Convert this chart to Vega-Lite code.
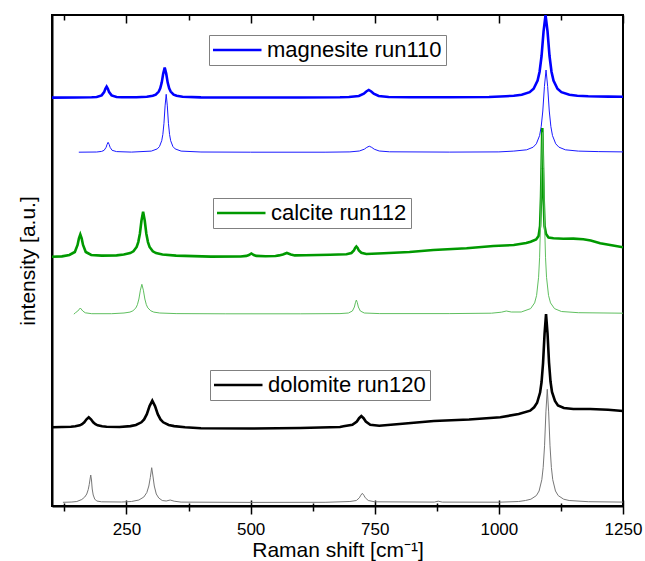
{
  "$schema": "https://vega.github.io/schema/vega-lite/v6.json",
  "autosize": {"type": "none"},
  "padding": {"left": 52, "top": 15, "right": 22, "bottom": 55},
  "width": 571,
  "height": 491,
  "background": "white",
  "config": {
    "font": "Liberation Sans",
    "view": {"stroke": "black", "strokeWidth": 2},
    "axis": {"labelFont": "Liberation Sans", "titleFont": "Liberation Sans", "titleFontWeight": "normal", "labelColor": "black", "titleColor": "black", "domainColor": "black", "tickColor": "black", "grid": false, "minExtent": 0},
    "legend": {"orient": "none", "symbolType": "stroke", "symbolSize": 2401, "symbolStrokeWidth": 2.6, "symbolOffset": -2, "labelFont": "Liberation Sans", "labelFontSize": 22, "labelColor": "black", "labelOffset": 4, "labelLimit": 400, "strokeColor": "#808080", "strokeWidth": 1, "padding": 4, "clipHeight": 22, "fillColor": "white"}
  },
  "datasets": {
    "mt": [{"x":100,"y":408.4},{"x":150,"y":408.5},{"x":180,"y":408.7},{"x":190,"y":409.0},{"x":200,"y":410.6},{"x":205,"y":413.9},{"x":207.5,"y":417.2},{"x":210,"y":419.4},{"x":212.5,"y":417.2},{"x":215,"y":413.9},{"x":220,"y":410.6},{"x":230,"y":409.0},{"x":240,"y":408.7},{"x":270,"y":408.8},{"x":291,"y":409.2},{"x":303,"y":410.2},{"x":309,"y":411.4},{"x":315,"y":414.4},{"x":318,"y":417.6},{"x":321,"y":423.4},{"x":324,"y":432.4},{"x":327,"y":438.4},{"x":330,"y":432.4},{"x":333,"y":423.4},{"x":336,"y":417.6},{"x":339,"y":414.4},{"x":345,"y":411.4},{"x":351,"y":410.2},{"x":363,"y":409.2},{"x":400,"y":408.6},{"x":500,"y":408.5},{"x":600,"y":408.5},{"x":680,"y":408.7},{"x":698,"y":409.0},{"x":718,"y":410.0},{"x":728,"y":412.3},{"x":733,"y":414.5},{"x":738,"y":416.0},{"x":743,"y":414.5},{"x":748,"y":412.3},{"x":758,"y":410.0},{"x":778,"y":409.0},{"x":820,"y":408.8},{"x":900,"y":408.8},{"x":980,"y":409.0},{"x":1014,"y":409.8},{"x":1030,"y":410.3},{"x":1046,"y":411.2},{"x":1062,"y":413.8},{"x":1070,"y":417.2},{"x":1078,"y":425.4},{"x":1082,"y":434.3},{"x":1086,"y":450},{"x":1090,"y":474.6},{"x":1094,"y":491},{"x":1098,"y":474.6},{"x":1102,"y":450},{"x":1106,"y":434.3},{"x":1110,"y":425.4},{"x":1118,"y":417.2},{"x":1126,"y":413.8},{"x":1142,"y":411.2},{"x":1158,"y":410.3},{"x":1180,"y":409.8},{"x":1220,"y":409.4},{"x":1250,"y":409.3}],
    "mn": [{"x":154,"y":353.8},{"x":190,"y":354.0},{"x":200,"y":354.6},{"x":205,"y":355.7},{"x":209,"y":358.7},{"x":211,"y":361.7},{"x":213,"y":363.7},{"x":215,"y":361.7},{"x":217,"y":358.7},{"x":221,"y":355.7},{"x":230,"y":354.4},{"x":260,"y":353.9},{"x":300,"y":354.9},{"x":312,"y":357.1},{"x":316.5,"y":359.5},{"x":321,"y":365.3},{"x":323.25,"y":371.6},{"x":325.5,"y":382.7},{"x":327.75,"y":400.1},{"x":330,"y":411.7},{"x":332.25,"y":400.1},{"x":334.5,"y":382.7},{"x":336.75,"y":371.6},{"x":339,"y":365.3},{"x":343.5,"y":359.5},{"x":348,"y":357.1},{"x":360,"y":354.9},{"x":400,"y":354.0},{"x":500,"y":353.8},{"x":650,"y":353.8},{"x":700,"y":354.1},{"x":719,"y":355.0},{"x":729,"y":356.8},{"x":734,"y":358.6},{"x":739,"y":359.8},{"x":744,"y":358.6},{"x":749,"y":356.8},{"x":759,"y":355.0},{"x":780,"y":354.2},{"x":900,"y":353.9},{"x":1000,"y":354.1},{"x":1030,"y":354.9},{"x":1056,"y":356.2},{"x":1069,"y":358.8},{"x":1075.5,"y":362.2},{"x":1082,"y":370.4},{"x":1085.25,"y":379.3},{"x":1088.5,"y":395},{"x":1091.75,"y":419.6},{"x":1095,"y":436},{"x":1098.25,"y":419.6},{"x":1101.5,"y":395},{"x":1104.75,"y":379.3},{"x":1108,"y":370.4},{"x":1114.5,"y":362.2},{"x":1121,"y":358.8},{"x":1134,"y":356.2},{"x":1160,"y":354.9},{"x":1200,"y":354.4},{"x":1250,"y":354.1}],
    "ct": [{"x":100,"y":249.3},{"x":120,"y":249.6},{"x":135,"y":251},{"x":146,"y":254},{"x":151.5,"y":261},{"x":154.25,"y":267.6},{"x":157,"y":271.6},{"x":159.75,"y":267.6},{"x":162.5,"y":261},{"x":168,"y":254},{"x":179,"y":251},{"x":200,"y":250.4},{"x":230,"y":250.6},{"x":244.5,"y":251.5},{"x":257.5,"y":252.9},{"x":264,"y":254.7},{"x":270.5,"y":259.1},{"x":273.75,"y":263.9},{"x":277,"y":272.3},{"x":280.25,"y":285.5},{"x":283.5,"y":294.3},{"x":286.75,"y":285.5},{"x":290,"y":272.3},{"x":293.25,"y":263.9},{"x":296.5,"y":259.1},{"x":303,"y":254.7},{"x":309.5,"y":252.9},{"x":322.5,"y":251.5},{"x":350,"y":250.4},{"x":420,"y":249.4},{"x":480,"y":249.5},{"x":491.5,"y":250.1},{"x":496.5,"y":251},{"x":501.5,"y":252.5},{"x":506.5,"y":251},{"x":511.5,"y":250.1},{"x":530,"y":249.8},{"x":550,"y":250},{"x":557,"y":250.6},{"x":565,"y":251.5},{"x":573,"y":253},{"x":581,"y":251.5},{"x":589,"y":250.6},{"x":610,"y":250.8},{"x":660,"y":251.2},{"x":693,"y":251.7},{"x":703,"y":253},{"x":708,"y":255.5},{"x":710.5,"y":258},{"x":713,"y":259.5},{"x":715.5,"y":258},{"x":718,"y":255.5},{"x":723,"y":253.2},{"x":733,"y":252},{"x":768,"y":252.7},{"x":820,"y":254},{"x":868,"y":256},{"x":935,"y":257.7},{"x":989,"y":260},{"x":1030,"y":261},{"x":1055,"y":263},{"x":1064,"y":264.3},{"x":1075,"y":266.5},{"x":1080,"y":270},{"x":1083,"y":280},{"x":1085,"y":310},{"x":1086.5,"y":350},{"x":1087.5,"y":378},{"x":1088.5,"y":350},{"x":1090,"y":310},{"x":1092,"y":280},{"x":1095,"y":272},{"x":1100,"y":268.5},{"x":1110,"y":267.7},{"x":1130,"y":267.2},{"x":1150,"y":267.4},{"x":1170,"y":266.8},{"x":1185,"y":265.6},{"x":1204,"y":262.7},{"x":1230,"y":260.5},{"x":1250,"y":258.7}],
    "cn": [{"x":144,"y":191.8},{"x":147,"y":193.2},{"x":152,"y":195},{"x":157,"y":198},{"x":162,"y":195},{"x":167,"y":193.2},{"x":180,"y":192.3},{"x":220,"y":192.3},{"x":245,"y":193},{"x":257,"y":193.9},{"x":263,"y":195.2},{"x":269,"y":198.1},{"x":272,"y":201.3},{"x":275,"y":207},{"x":278,"y":215.8},{"x":281,"y":221.7},{"x":284,"y":215.8},{"x":287,"y":207},{"x":290,"y":201.3},{"x":293,"y":198.1},{"x":299,"y":195.2},{"x":305,"y":193.9},{"x":317,"y":193},{"x":350,"y":192.4},{"x":450,"y":192.2},{"x":600,"y":192.2},{"x":680,"y":192.4},{"x":697,"y":193},{"x":705,"y":195},{"x":709,"y":199},{"x":711,"y":203.2},{"x":713,"y":206},{"x":715,"y":203.2},{"x":717,"y":199},{"x":721,"y":195},{"x":729,"y":193},{"x":760,"y":192.4},{"x":900,"y":192.4},{"x":985,"y":192.8},{"x":1005,"y":193.8},{"x":1015,"y":195},{"x":1025,"y":194},{"x":1045,"y":194},{"x":1064,"y":197.4},{"x":1072,"y":203.1},{"x":1076,"y":210.6},{"x":1080,"y":228.7},{"x":1082,"y":248.2},{"x":1084,"y":283},{"x":1086,"y":337.3},{"x":1088,"y":373.5},{"x":1090,"y":337.3},{"x":1092,"y":283},{"x":1094,"y":248.2},{"x":1096,"y":228.7},{"x":1100,"y":210.6},{"x":1104,"y":203.1},{"x":1112,"y":197.4},{"x":1126,"y":194.5},{"x":1160,"y":193.3},{"x":1250,"y":192.8}],
    "dt": [{"x":100,"y":78.7},{"x":120,"y":79.0},{"x":138,"y":79.3},{"x":147,"y":79.7},{"x":156,"y":80.7},{"x":160.5,"y":81.8},{"x":165,"y":83.7},{"x":169.5,"y":86.7},{"x":174,"y":88.7},{"x":178.5,"y":86.7},{"x":183,"y":83.7},{"x":187.5,"y":81.8},{"x":192,"y":80.7},{"x":201,"y":79.7},{"x":210,"y":79.3},{"x":236,"y":79.0},{"x":258,"y":79.9},{"x":269,"y":81},{"x":280,"y":83.7},{"x":285.5,"y":86.6},{"x":291,"y":91.8},{"x":296.5,"y":99.9},{"x":302,"y":105.3},{"x":307.5,"y":99.9},{"x":313,"y":91.8},{"x":318.5,"y":86.6},{"x":324,"y":83.7},{"x":335,"y":81},{"x":346,"y":79.9},{"x":368,"y":78.8},{"x":400,"y":77.8},{"x":500,"y":77.5},{"x":600,"y":78},{"x":680,"y":79},{"x":687,"y":79.7},{"x":705,"y":81.2},{"x":714,"y":84.5},{"x":718.5,"y":87.8},{"x":723,"y":90},{"x":727.5,"y":87.8},{"x":732,"y":84.5},{"x":741,"y":81.2},{"x":759,"y":80.2},{"x":800,"y":82},{"x":869,"y":85},{"x":940,"y":86.5},{"x":1003,"y":88.7},{"x":1040,"y":92},{"x":1063,"y":95.3},{"x":1071,"y":98.7},{"x":1077,"y":103.2},{"x":1083,"y":113.4},{"x":1086,"y":124},{"x":1089,"y":143},{"x":1092,"y":172},{"x":1095,"y":192},{"x":1098,"y":172.5},{"x":1101,"y":143.5},{"x":1104,"y":124.5},{"x":1107,"y":114},{"x":1113,"y":105},{"x":1119,"y":100.5},{"x":1131,"y":98},{"x":1150,"y":97},{"x":1184,"y":97},{"x":1220,"y":96.2},{"x":1250,"y":95}],
    "dn": [{"x":122,"y":3.7},{"x":140,"y":4.0},{"x":150,"y":4.5},{"x":160,"y":6.5},{"x":166,"y":9},{"x":170,"y":12},{"x":173,"y":16.5},{"x":175,"y":21.5},{"x":177,"y":28},{"x":178,"y":31},{"x":179.5,"y":26},{"x":181,"y":17},{"x":183,"y":11},{"x":186,"y":7},{"x":190,"y":5},{"x":200,"y":4.2},{"x":240,"y":4},{"x":260,"y":4.5},{"x":275,"y":6},{"x":285,"y":9},{"x":291,"y":13.5},{"x":295,"y":20},{"x":298,"y":28.5},{"x":300.8,"y":38.3},{"x":303,"y":31},{"x":306,"y":20},{"x":310,"y":12},{"x":315,"y":8},{"x":322,"y":5.5},{"x":330,"y":5},{"x":338,"y":6},{"x":346,"y":4.8},{"x":360,"y":3.9},{"x":500,"y":3.6},{"x":650,"y":3.7},{"x":700,"y":4.5},{"x":713,"y":5.5},{"x":719,"y":8.2},{"x":722,"y":10.8},{"x":725,"y":12.7},{"x":728,"y":10.8},{"x":731,"y":8.2},{"x":737,"y":5.5},{"x":750,"y":4.2},{"x":870,"y":3.9},{"x":878,"y":4.8},{"x":886,"y":3.9},{"x":1000,"y":3.8},{"x":1040,"y":4.5},{"x":1053.5,"y":5.5},{"x":1064.5,"y":6.8},{"x":1075.5,"y":10.4},{"x":1081,"y":15},{"x":1086.5,"y":26.3},{"x":1089.25,"y":38.5},{"x":1092,"y":60.2},{"x":1094.75,"y":94.1},{"x":1097.5,"y":116.7},{"x":1100.25,"y":94.1},{"x":1103,"y":60.2},{"x":1105.75,"y":38.5},{"x":1108.5,"y":26.3},{"x":1114,"y":15},{"x":1119.5,"y":10.4},{"x":1130.5,"y":6.8},{"x":1141.5,"y":5.5},{"x":1180,"y":4.3},{"x":1250,"y":3.9}]
  },
  "resolve": {"scale": {"color": "independent"}, "legend": {"color": "independent"}, "axis": {"x": "independent", "y": "independent"}},
  "layer": [
    {
      "data": {"name": "mt"},
      "mark": {"type": "line", "strokeWidth": 2.6, "clip": true},
      "encoding": {
        "x": {"field": "x", "type": "quantitative", "scale": {"domain": [100, 1250], "nice": false, "zero": false},
          "axis": {"orient": "bottom", "values": [125, 250, 375, 500, 625, 750, 875, 1000, 1125, 1250], "format": "d", "labelExpr": "datum.value % 250 === 0 ? datum.label : ''", "labelFlush": false, "labelOverlap": false, "labelFontSize": 17, "labelPadding": 7, "tickSize": {"condition": {"test": "datum.value % 250 === 0", "value": 8}, "value": 5}, "tickWidth": 1.5, "domainWidth": 2, "title": "Raman shift [cm⁻¹]", "titleFontSize": 21, "titlePadding": 2}},
        "y": {"field": "y", "type": "quantitative", "scale": {"domain": [0, 491], "nice": false, "zero": false},
          "axis": {"orient": "left", "ticks": false, "labels": false, "domainWidth": 2, "minExtent": 0, "title": "intensity [a.u.]", "titleFontSize": 21, "titlePadding": 14}},
        "color": {"datum": "magnesite run110", "type": "nominal", "scale": {"domain": ["magnesite run110"], "range": ["#0000ff"]}, "legend": {"title": null, "legendX": 157, "legendY": 20}}
      }
    },
    {
      "data": {"name": "mn"},
      "mark": {"type": "line", "strokeWidth": 1, "color": "#1a1aff", "clip": true},
      "encoding": {
        "x": {"field": "x", "type": "quantitative", "scale": {"domain": [100, 1250], "nice": false, "zero": false},
          "axis": {"orient": "bottom", "values": [125, 250, 375, 500, 625, 750, 875, 1000, 1125, 1250], "labels": false, "domain": false, "title": null, "tickSize": {"condition": {"test": "datum.value % 250 === 0", "value": -6}, "value": -3}, "tickWidth": 1.5}},
        "y": {"field": "y", "type": "quantitative", "axis": null}
      }
    },
    {
      "data": {"name": "ct"},
      "mark": {"type": "line", "strokeWidth": 2.6, "clip": true},
      "encoding": {
        "x": {"field": "x", "type": "quantitative", "scale": {"domain": [100, 1250], "nice": false, "zero": false},
          "axis": {"orient": "top", "values": [125, 250, 375, 500, 625, 750, 875, 1000, 1125, 1250], "labels": false, "domain": false, "title": null, "tickSize": {"condition": {"test": "datum.value % 250 === 0", "value": -8}, "value": -5}, "tickWidth": 1.5}},
        "y": {"field": "y", "type": "quantitative", "axis": null},
        "color": {"datum": "calcite run112", "type": "nominal", "scale": {"domain": ["calcite run112"], "range": ["#009900"]}, "legend": {"title": null, "legendX": 161, "legendY": 183}}
      }
    },
    {
      "data": {"name": "cn"},
      "mark": {"type": "line", "strokeWidth": 1, "color": "#5fbf5f", "clip": true},
      "encoding": {
        "x": {"field": "x", "type": "quantitative", "axis": null},
        "y": {"field": "y", "type": "quantitative", "axis": null}
      }
    },
    {
      "data": {"name": "dt"},
      "mark": {"type": "line", "strokeWidth": 2.6, "clip": true},
      "encoding": {
        "x": {"field": "x", "type": "quantitative", "axis": null},
        "y": {"field": "y", "type": "quantitative", "axis": null},
        "color": {"datum": "dolomite run120", "type": "nominal", "scale": {"domain": ["dolomite run120"], "range": ["#000000"]}, "legend": {"title": null, "legendX": 158, "legendY": 355}}
      }
    },
    {
      "data": {"name": "dn"},
      "mark": {"type": "line", "strokeWidth": 1, "color": "#777777", "clip": true},
      "encoding": {
        "x": {"field": "x", "type": "quantitative", "axis": null},
        "y": {"field": "y", "type": "quantitative", "axis": null}
      }
    }
  ]
}
